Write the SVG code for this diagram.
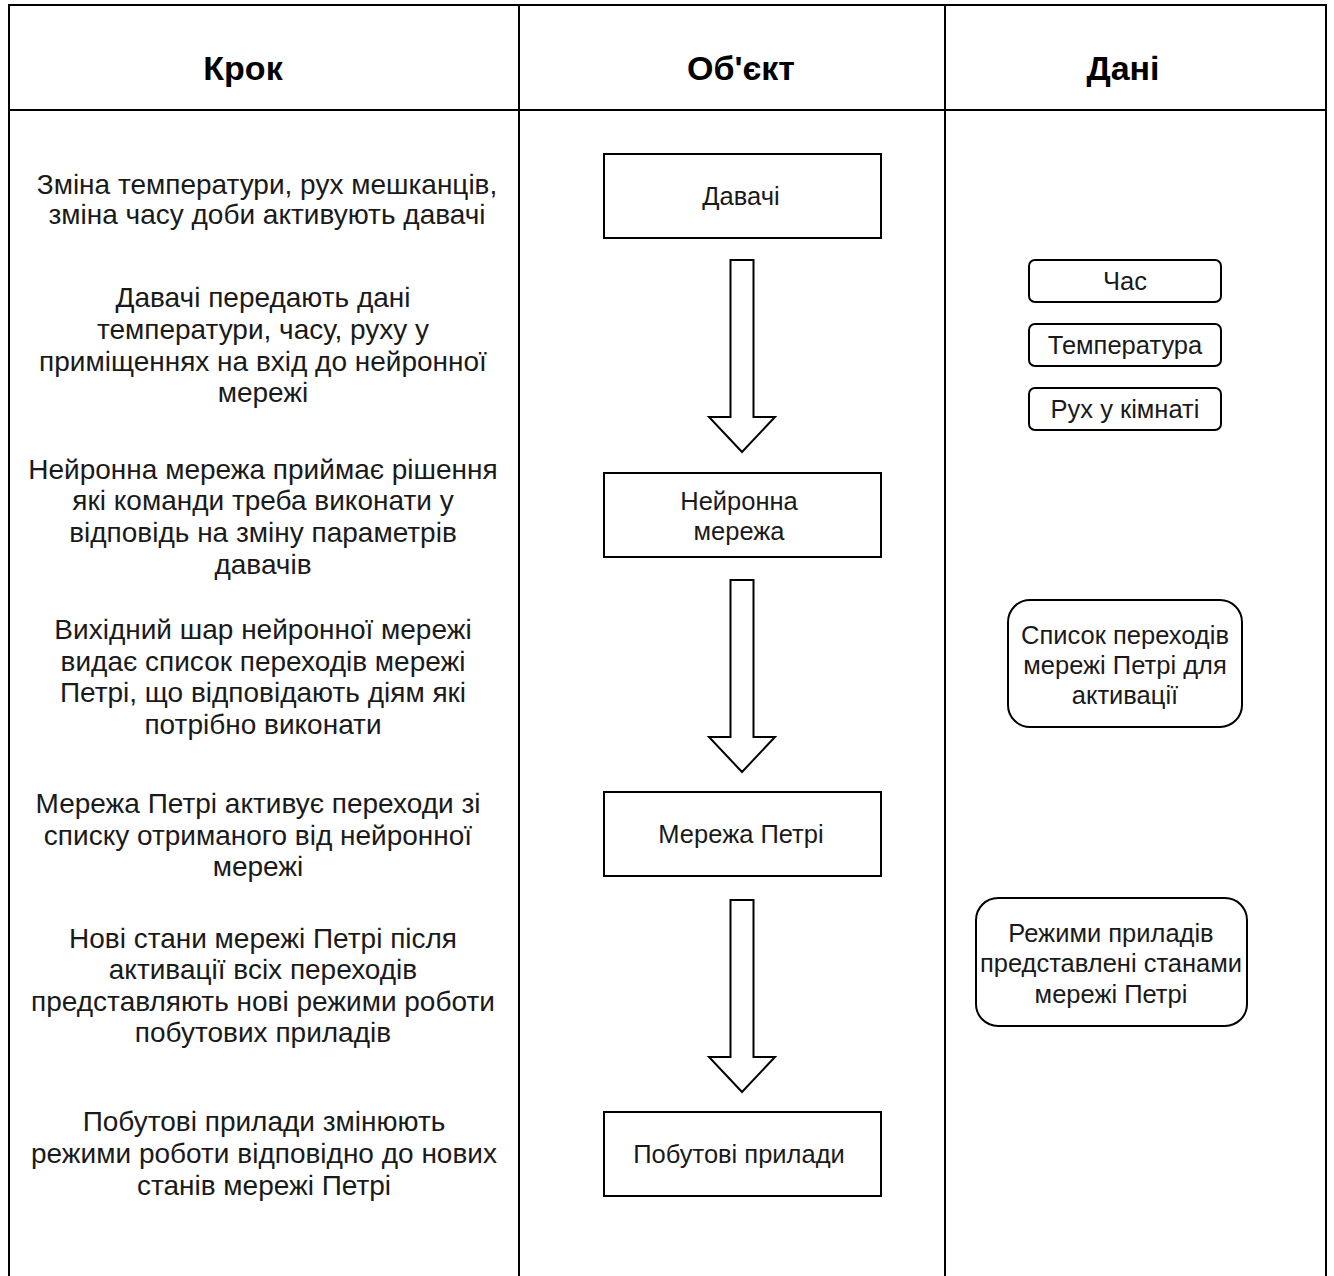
<svg xmlns="http://www.w3.org/2000/svg" width="1334" height="1276" viewBox="0 0 1334 1276">
  <style>
    .frame { fill: none; stroke: #000; stroke-width: 2; }
    .box { fill: #fff; stroke: #000; stroke-width: 2; }
    .arrow { fill: #fff; stroke: #000; stroke-width: 2; stroke-linejoin: miter; }
    text { font-family: "Liberation Sans", Arial, sans-serif; text-anchor: middle; }
    .head { font-size: 34px; font-weight: bold; fill: #000; }
    .step { font-size: 28px; fill: #1a1a1a; }
    .lbl { font-size: 25.5px; fill: #1a1a1a; }
  </style>
  <defs>
    <!-- hollow block arrow, drawn with its shaft top at the origin -->
    <path id="blockArrow" class="arrow" d="M -11.5 0 H 11.5 V 157 H 33 L 0 192 L -33 157 H -11.5 Z"/>
  </defs>

  <rect width="1334" height="1276" fill="#fff"/>

  <!-- table grid: three columns, open at the bottom -->
  <g id="table">
    <path class="frame" d="M 9 1276 V 5 H 1326 V 1276"/>
    <line class="frame" x1="9" y1="110" x2="1326" y2="110"/>
    <line class="frame" x1="519" y1="5" x2="519" y2="1276"/>
    <line class="frame" x1="945" y1="5" x2="945" y2="1276"/>
    <text class="head" x="243" y="80">Крок</text>
    <text class="head" x="741" y="80">Об'єкт</text>
    <text class="head" x="1123" y="80">Дані</text>
  </g>

  <!-- step descriptions -->
  <g id="steps">
    <text class="step" x="267" y="194">Зміна температури, рух мешканців,</text>
    <text class="step" x="267" y="224">зміна часу доби активують давачі</text>

    <text class="step" x="263" y="307">Давачі передають дані</text>
    <text class="step" x="263" y="339">температури, часу, руху у</text>
    <text class="step" x="263" y="371">приміщеннях на вхід до нейронної</text>
    <text class="step" x="263" y="402">мережі</text>

    <text class="step" x="263" y="479">Нейронна мережа приймає рішення</text>
    <text class="step" x="263" y="510">які команди треба виконати у</text>
    <text class="step" x="263" y="542">відповідь на зміну параметрів</text>
    <text class="step" x="263" y="574">давачів</text>

    <text class="step" x="263" y="639">Вихідний шар нейронної мережі</text>
    <text class="step" x="263" y="671">видає список переходів мережі</text>
    <text class="step" x="263" y="702">Петрі, що відповідають діям які</text>
    <text class="step" x="263" y="734">потрібно виконати</text>

    <text class="step" x="258" y="813">Мережа Петрі активує переходи зі</text>
    <text class="step" x="258" y="845">списку отриманого від нейронної</text>
    <text class="step" x="258" y="876">мережі</text>

    <text class="step" x="263" y="948">Нові стани мережі Петрі після</text>
    <text class="step" x="263" y="979">активації всіх переходів</text>
    <text class="step" x="263" y="1011">представляють нові режими роботи</text>
    <text class="step" x="263" y="1042">побутових приладів</text>

    <text class="step" x="264" y="1131">Побутові прилади змінюють</text>
    <text class="step" x="264" y="1163">режими роботи відповідно до нових</text>
    <text class="step" x="264" y="1195">станів мережі Петрі</text>
  </g>

  <!-- object column -->
  <g id="sensors">
    <rect class="box" x="604" y="154" width="277" height="84"/>
    <text class="lbl" x="741" y="205">Давачі</text>
  </g>
  <g id="neural-net">
    <rect class="box" x="604" y="473" width="277" height="84"/>
    <text class="lbl" x="739" y="510">Нейронна</text>
    <text class="lbl" x="739" y="540">мережа</text>
  </g>
  <g id="petri-net">
    <rect class="box" x="604" y="792" width="277" height="84"/>
    <text class="lbl" x="741" y="843">Мережа Петрі</text>
  </g>
  <g id="appliances">
    <rect class="box" x="604" y="1112" width="277" height="84"/>
    <text class="lbl" x="739" y="1163">Побутові прилади</text>
  </g>

  <!-- data column -->
  <g id="data-time">
    <rect class="box" x="1029" y="260" width="192" height="42" rx="6"/>
    <text class="lbl" x="1125" y="290">Час</text>
  </g>
  <g id="data-temperature">
    <rect class="box" x="1029" y="324" width="192" height="42" rx="6"/>
    <text class="lbl" x="1125" y="354">Температура</text>
  </g>
  <g id="data-motion">
    <rect class="box" x="1029" y="388" width="192" height="42" rx="6"/>
    <text class="lbl" x="1125" y="418">Рух у кімнаті</text>
  </g>
  <g id="data-transitions">
    <rect class="box" x="1008" y="600" width="234" height="127" rx="22"/>
    <text class="lbl" x="1125" y="644">Список переходів</text>
    <text class="lbl" x="1125" y="674">мережі Петрі для</text>
    <text class="lbl" x="1125" y="704">активації</text>
  </g>
  <g id="data-modes">
    <rect class="box" x="976" y="898" width="271" height="128" rx="22"/>
    <text class="lbl" x="1111" y="942">Режими приладів</text>
    <text class="lbl" x="1111" y="972">представлені станами</text>
    <text class="lbl" x="1111" y="1003">мережі Петрі</text>
  </g>

  <!-- flow arrows between objects -->
  <g id="connectors">
    <use href="#blockArrow" x="742" y="260"/>
    <use href="#blockArrow" x="742" y="580"/>
    <use href="#blockArrow" x="742" y="900"/>
  </g>
</svg>
